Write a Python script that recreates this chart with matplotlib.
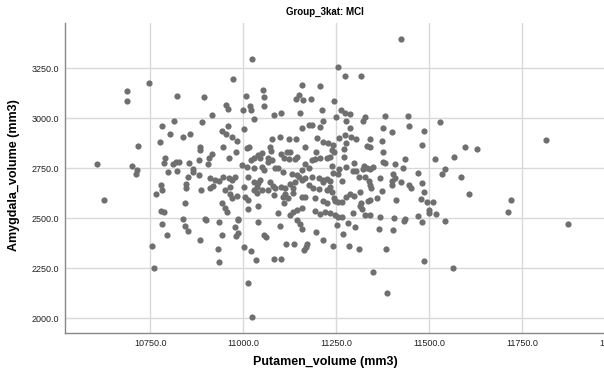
import matplotlib
matplotlib.use("Agg")
import matplotlib.pyplot as plt

# Putamen / Amygdala volumes (mm3)
putamen = [
    10687, 10687, 10748, 10823,
    11023, 10974, 10896, 11007, 11054, 11055, 10953, 10958, 10915, 10999, 11018, 11021, 11056,
    11083, 11102, 11158, 11149, 11142, 11162, 11183, 11206, 11154, 11212, 11243,
    11424, 11255, 11274, 11316, 11263, 11274, 11288, 11250, 11328, 11382, 11443,
    10815, 10782, 10804, 10856, 10838, 10777, 10717, 10607, 10701, 10715, 10713, 10791, 10788,
    10811, 10820, 10828, 10854, 10798, 10823, 10866, 10865, 10852, 10779, 10782, 10765, 10845,
    10846, 10625, 10844, 10780, 10787, 10838,
    10782, 10844, 10853, 10795, 10754, 10759,
    10884, 10934, 10987, 11039, 10977, 10986, 10981, 10944, 10933, 10935, 11003, 11021, 11034,
    11056, 11061, 11099, 11083, 11102, 11114, 11138, 11154, 11159, 11172, 11169, 11164, 11196,
    11214, 11241, 11013, 11024, 10900, 11144,
    11253, 11282, 11301, 11269, 11285, 11312, 11364, 11403, 11433, 11480, 11543, 11384, 11486,
    11563, 11348, 11386,
    11873, 11597, 11630, 11814, 11607, 11721, 11712,
    11277, 11321, 11528, 11288, 11376, 11400, 11445, 11487, 11480, 11568, 11517, 11258, 11274,
    11290, 11303, 11342, 11373, 11333, 11340, 11276, 11272, 11271, 11241, 11238, 11243, 11375,
    11376, 11382, 11436, 11407, 11429, 11471, 11543, 11534, 11585, 11239, 11259, 11276, 11297,
    11295, 11304, 11324, 11322, 11333, 11348, 11342, 11241, 11256, 11265, 11311, 11328, 11339,
    11341, 11343, 11367, 11404, 11407, 11401, 11400, 11425, 11446, 11452, 11480, 11485, 11478,
    11494, 11510, 11500, 11501, 11519, 11373, 11359, 11342, 11335, 11315, 11299, 11286, 11276,
    11317, 11315, 11319, 11410, 11238, 11243, 11247, 11256, 11265, 11247, 11256, 11265, 11295,
    11328, 11342, 11367, 11406, 11436, 11471,
    10889, 11030, 10943, 10958, 10953, 10970, 10983, 11001, 10884, 10884, 10916, 10909, 10945,
    10963, 10981, 10882, 10905, 11010, 11017, 11077, 11098, 11122, 11142, 11158, 11176, 11186,
    11216, 11207, 11165, 11198, 11216, 11229, 11196, 11073, 11075, 11030, 11041, 11050, 11046,
    11022, 11068, 11077, 11066, 11102, 11111, 11122, 11117, 11125, 11140, 11144, 11167, 11185,
    11194, 11207, 11225, 11234, 10996, 11010, 11030, 11050, 11055, 11086, 11095, 11108, 11131,
    11144, 11158, 11176, 11185, 11203, 11216, 11225, 11234, 10880, 10911, 10925, 10936, 10918,
    10911, 10947, 10961, 10971, 10979, 10965, 10950, 11014, 11028, 11039, 11046, 11037, 11030,
    11050, 11073, 11079, 11086, 11066, 11102, 11113, 11126, 11140, 11135, 11149, 11158, 11167,
    11176, 11189, 11204, 11216, 11225, 11234, 10887, 11001, 11005, 11014, 11037, 11082, 11106,
    11113, 11120, 11111, 11135, 11158, 11167, 11194, 11216, 11225, 10965, 10970, 10983, 10943,
    10950, 10956, 11013, 11041, 11095, 11126, 11135, 11144, 11158, 11194, 11207, 11220, 11234,
    10898, 10987,
]
amygdala = [
    3133, 3083, 3173, 3110,
    3295, 3195, 3105, 3112, 3140, 3103, 3065, 3043, 3017, 3040, 3062, 3042, 3058,
    3015, 3025, 3163, 3113, 3093, 3092, 3097, 3160, 3027, 3040, 3085,
    3395, 3255, 3208, 3208, 3040, 3025, 3022, 3007, 3007, 3008, 3012,
    2985, 2962, 2922, 2922, 2905, 2882, 2862, 2772, 2760, 2740, 2720, 2798, 2775,
    2772, 2780, 2780, 2777, 2728, 2733, 2745, 2728, 2703, 2667, 2642, 2622, 2670,
    2652, 2592, 2575, 2535, 2528, 2497,
    2470, 2462, 2437, 2417, 2360, 2248,
    2390, 2482, 2490, 2482, 2457, 2427, 2410, 2415, 2343, 2278, 2357, 2337, 2288,
    2415, 2407, 2462, 2297, 2297, 2372, 2372, 2470, 2443, 2368, 2357, 2338, 2430,
    2390, 2358, 2173, 2003, 2490, 2490,
    2465, 2475, 2453, 2418, 2358, 2345, 2445, 2440, 2487, 2478, 2485, 2347, 2287,
    2252, 2228, 2125,
    2470, 2853, 2843, 2890, 2622, 2592, 2532,
    2985, 2985, 2978, 2948, 2952, 2928, 2962, 2937, 2865, 2807, 2793, 2898, 2915,
    2905, 2893, 2893, 2885, 2862, 2853, 2877, 2843, 2805, 2865, 2840, 2828, 2832,
    2782, 2773, 2795, 2768, 2752, 2723, 2743, 2720, 2703, 2762, 2745, 2757, 2773,
    2737, 2735, 2762, 2745, 2748, 2757, 2743, 2723, 2718, 2685, 2707, 2707, 2685,
    2665, 2648, 2698, 2718, 2702, 2685, 2665, 2682, 2665, 2652, 2673, 2632, 2595,
    2578, 2578, 2540, 2523, 2518, 2635, 2602, 2588, 2585, 2632, 2610, 2618, 2607,
    2577, 2562, 2545, 2590, 2632, 2598, 2587, 2578, 2578, 2515, 2503, 2503, 2527,
    2515, 2515, 2507, 2502, 2493, 2512,
    2982, 2995, 2937, 2960, 2918, 2907, 2887, 2943, 2857, 2840, 2818, 2802, 2857,
    2798, 2832, 2790, 2768, 2848, 2853, 2895, 2907, 2895, 2895, 2952, 2965, 2965,
    2985, 2957, 2857, 2898, 2882, 2873, 2832, 2857, 2835, 2798, 2815, 2823, 2802,
    2790, 2802, 2790, 2782, 2818, 2802, 2795, 2832, 2828, 2793, 2807, 2768, 2790,
    2795, 2798, 2798, 2807, 2765, 2753, 2748, 2757, 2740, 2748, 2752, 2732, 2718,
    2715, 2740, 2748, 2707, 2698, 2690, 2695, 2685, 2715, 2698, 2690, 2685, 2660,
    2652, 2707, 2698, 2690, 2707, 2657, 2640, 2707, 2682, 2673, 2690, 2657, 2640,
    2640, 2682, 2662, 2652, 2640, 2657, 2648, 2668, 2682, 2652, 2707, 2690, 2698,
    2665, 2652, 2645, 2682, 2640, 2657, 2640, 2657, 2607, 2590, 2623, 2615, 2607,
    2618, 2598, 2573, 2623, 2607, 2607, 2598, 2585, 2573, 2618, 2602, 2612, 2573,
    2548, 2532, 2545, 2562, 2523, 2515, 2532, 2540, 2552, 2535, 2518, 2528, 2523,
    2495, 2495,
]

x_ticks = [10750, 11000, 11250, 11500, 11750, 12000]
y_ticks = [2000, 2250, 2500, 2750, 3000, 3250]

title = "Group_3kat: MCI"
x_label = "Putamen_volume (mm3)"
y_label = "Amygdala_volume (mm3)"

plt.rcParams["font.family"] = ["Liberation Sans", "DejaVu Sans"]

fig = plt.figure(figsize=(6.04, 3.72), dpi=100)
# the original chart is cropped on the right, so the axes run past the figure edge
ax = fig.add_axes([65 / 604, 39 / 372, 575 / 604, 310 / 372])

ax.scatter(putamen, amygdala, s=20, color="#6f6f6f", linewidths=0, zorder=3)

ax.set_xlim(10521, 12067)
ax.set_ylim(1925, 3475)
ax.set_xticks(x_ticks)
ax.set_yticks(y_ticks)
ax.set_xticklabels([f"{v:.1f}" for v in x_ticks])
ax.set_yticklabels([f"{v:.1f}" for v in y_ticks])
ax.tick_params(length=0, labelsize=6.5, colors="#222222", pad=4)

ax.grid(True, color="#d9d9d9", linewidth=1.0, zorder=0)
ax.set_axisbelow(True)
for side in ("top", "right"):
    ax.spines[side].set_visible(False)
for side in ("left", "bottom"):
    ax.spines[side].set_color("#888888")
    ax.spines[side].set_linewidth(1.0)

fig.text(325 / 604, 1 - 12 / 372, title, ha="center", va="center",
         fontsize=7, fontweight="bold")
fig.text(325 / 604, 1 - 362 / 372, x_label, ha="center", va="center",
         fontsize=9, fontweight="bold")
fig.text(14 / 604, 1 - 175 / 372, y_label, ha="center", va="center",
         rotation=90, fontsize=9, fontweight="bold")

fig.savefig("out.png", dpi=100)
